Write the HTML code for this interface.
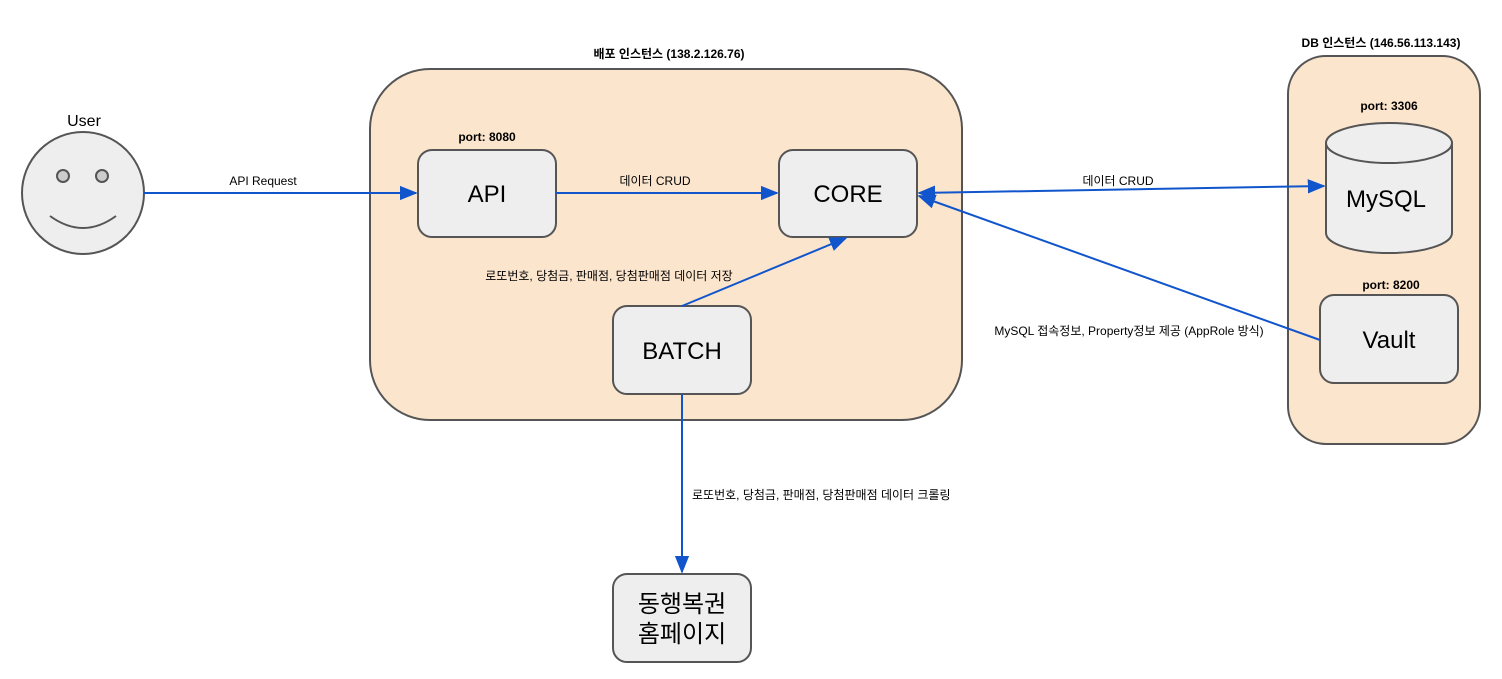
<!DOCTYPE html>
<html><head><meta charset="utf-8"><style>
body{margin:0;background:#fff}
svg text{font-family:"Liberation Sans","Noto Sans CJK KR",sans-serif;fill:#000}
</style></head><body>
<svg width="1502" height="674" viewBox="0 0 1502 674" xmlns="http://www.w3.org/2000/svg">
<defs><marker id="a" viewBox="0 0 10 10" refX="9" refY="5" markerWidth="8" markerHeight="8" markerUnits="userSpaceOnUse" orient="auto-start-reverse"><path d="M0,0 L10,5 L0,10 z" fill="#1155cc"/></marker>
<marker id="b" viewBox="0 0 10 10" refX="9" refY="5" markerWidth="18" markerHeight="18" markerUnits="userSpaceOnUse" orient="auto-start-reverse"><path d="M0,1 L10,5 L0,9 z" fill="#1155cc"/></marker></defs>
<rect x="370" y="69" width="592" height="351" rx="60" fill="#fce5cd" stroke="#555" stroke-width="2"/>
<rect x="1288" y="56" width="192" height="388" rx="38" fill="#fce5cd" stroke="#555" stroke-width="2"/>
<text x="669" y="58" font-size="12" font-weight="bold" text-anchor="middle">배포 인스턴스 (138.2.126.76)</text>
<text x="1381" y="47" font-size="12" font-weight="bold" text-anchor="middle">DB 인스턴스 (146.56.113.143)</text>
<circle cx="83" cy="193" r="61" fill="#eee" stroke="#555" stroke-width="2"/>
<circle cx="63" cy="176" r="6" fill="#ccc" stroke="#555" stroke-width="2"/>
<circle cx="102" cy="176" r="6" fill="#ccc" stroke="#555" stroke-width="2"/>
<path d="M50,216 Q83,240 116,216" fill="none" stroke="#555" stroke-width="2"/>
<text x="84" y="126" font-size="16" text-anchor="middle">User</text>
<g fill="#eee" stroke="#555" stroke-width="2">
<rect x="418" y="150" width="138" height="87" rx="14"/>
<rect x="779" y="150" width="138" height="87" rx="14"/>
<rect x="613" y="306" width="138" height="88" rx="14"/>
<rect x="613" y="574" width="138" height="88" rx="14"/>
<rect x="1320" y="295" width="138" height="88" rx="14"/>
<path d="M1326,143 L1326,233 A63,20 0 0 0 1452,233 L1452,143"/>
<ellipse cx="1389" cy="143" rx="63" ry="20"/>
</g>
<text x="487" y="141" font-size="12" font-weight="bold" text-anchor="middle">port: 8080</text>
<text x="1389" y="110" font-size="12" font-weight="bold" text-anchor="middle">port: 3306</text>
<text x="1391" y="289" font-size="12" font-weight="bold" text-anchor="middle">port: 8200</text>
<g font-size="24" text-anchor="middle">
<text x="487" y="202">API</text>
<text x="848" y="202">CORE</text>
<text x="682" y="359">BATCH</text>
<text x="1386" y="207">MySQL</text>
<text x="1389" y="348">Vault</text>
<text x="682" y="612">동행복권</text>
<text x="682" y="642">홈페이지</text>
</g>
<g stroke="#1155cc" stroke-width="2" fill="none">
<line x1="144" y1="193" x2="416" y2="193" marker-end="url(#b)"/>
<line x1="556" y1="193" x2="777" y2="193" marker-end="url(#b)"/>
<line x1="919" y1="193" x2="1324" y2="186" marker-start="url(#b)" marker-end="url(#b)"/>
<line x1="1320" y1="340" x2="919" y2="196" marker-end="url(#b)"/>
<line x1="682" y1="306" x2="846" y2="238" marker-end="url(#b)"/>
<line x1="682" y1="394" x2="682" y2="572" marker-end="url(#b)"/>
</g>
<g font-size="12" text-anchor="middle">
<text x="263" y="185">API Request</text>
<text x="655" y="185">데이터 CRUD</text>
<text x="1118" y="185">데이터 CRUD</text>
<text x="609" y="280">로또번호, 당첨금, 판매점, 당첨판매점 데이터 저장</text>
<text x="1129" y="335">MySQL 접속정보, Property정보 제공 (AppRole 방식)</text>
<text x="692" y="499" text-anchor="start">로또번호, 당첨금, 판매점, 당첨판매점 데이터 크롤링</text>
</g>
</svg>
</body></html>
